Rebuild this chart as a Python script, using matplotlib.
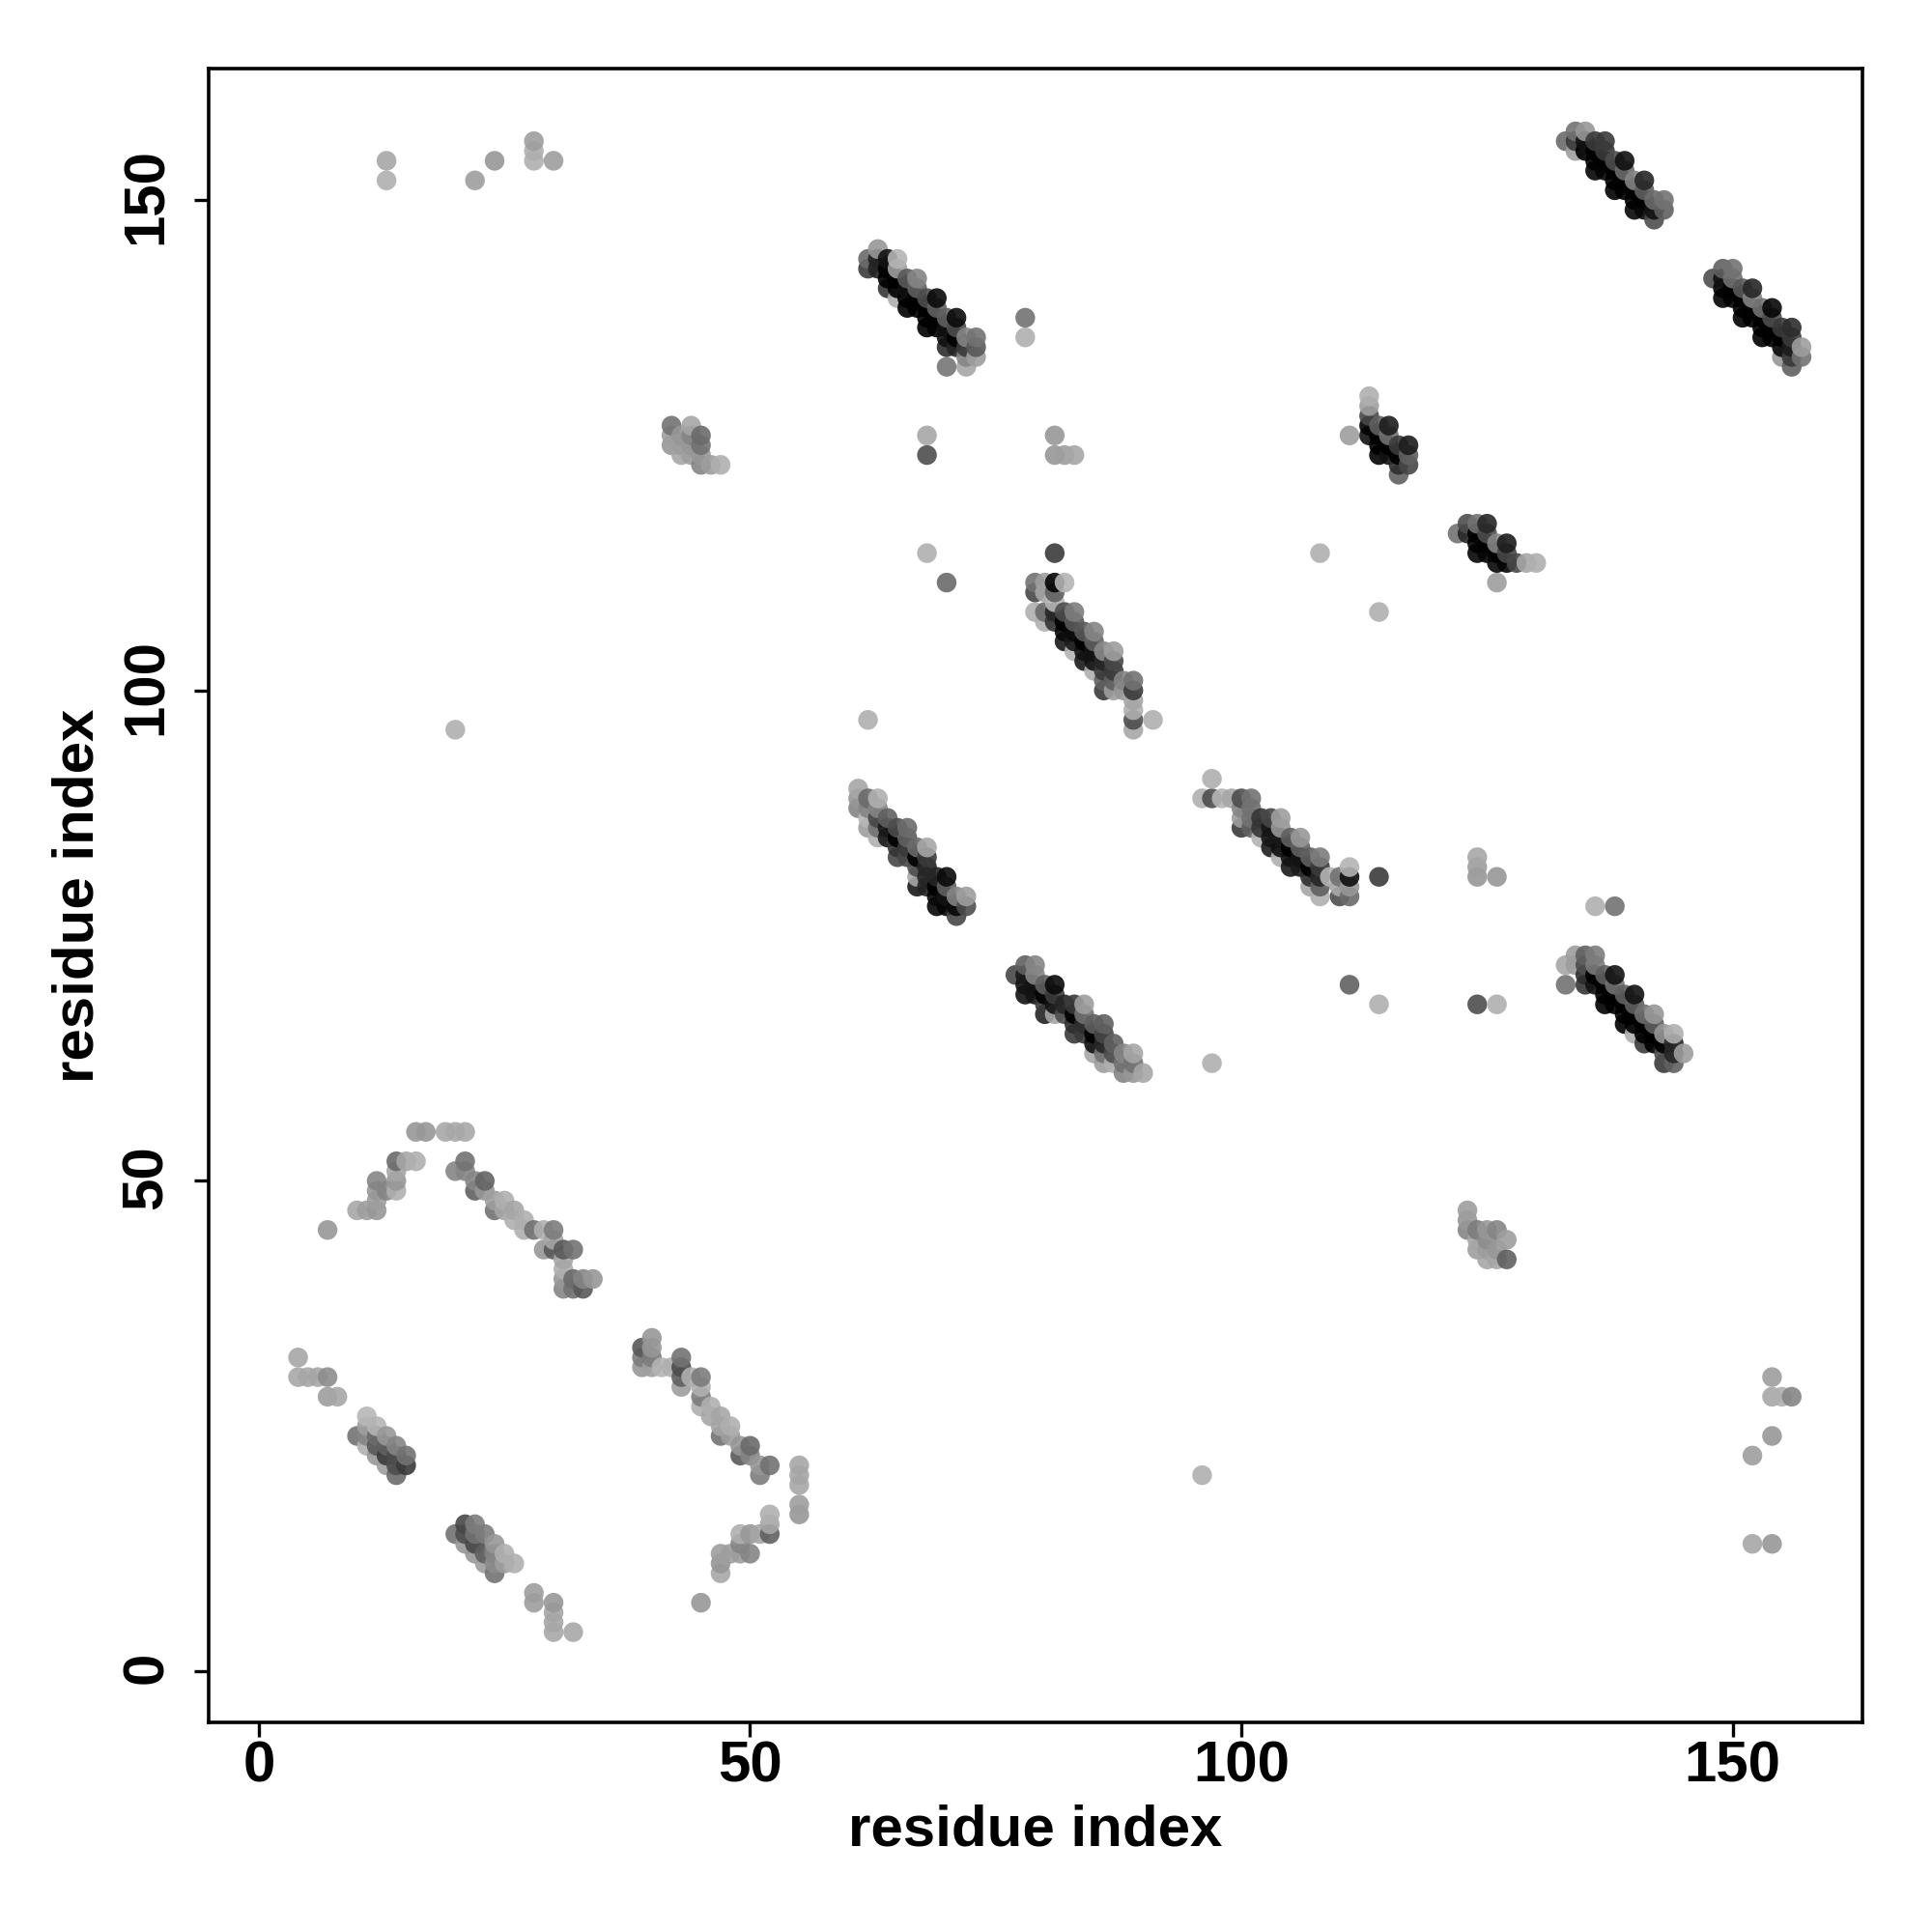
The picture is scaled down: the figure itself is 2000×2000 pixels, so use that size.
import matplotlib
matplotlib.use("Agg")
import matplotlib.pyplot as plt
import matplotlib.transforms as mtrans
import numpy as np

# each point is (residue i, residue j, grey level seen on white)
isolated = [(13,154,0xa8),(13,152,0xb0),(22,152,0xa0),(24,154,0x99),(28,156,0xa0),(28,155,0xb0),(28,154,0xb0),(30,154,0xa0),
            (20,96,0xb0),(62,97,0xb0),(68,126,0xa8),(68,124,0x55),(68,114,0xb0),(70,111,0x70),(78,138,0x77),(78,136,0xb0),
            (81,126,0x99),(81,124,0x99),(82,124,0xa0),(83,124,0xa8),(108,114,0xb0),(114,108,0xb0),(111,126,0xa0),(126,111,0xa0),
            (97,62,0xb0),(111,70,0x66),(114,68,0xb0),(124,68,0x55),(126,68,0xb0),(124,83,0xa8),(124,82,0xa0),(124,81,0x99),
            (126,81,0x99),(136,78,0xb0),(138,78,0x77),(96,20,0xb0),(154,30,0xa0),(154,28,0xa8),(155,28,0xb0),(156,28,0x88),
            (154,24,0x99),(152,22,0xa0),(152,13,0xa8),(154,13,0x99),(114,81,0x45),(81,114,0x45),(91,97,0xb0)]

block_a = [(63,145,0x99),(62,144,0x70),(62,143,0x45),(63,144,0x30),(63,143,0x30),(64,144,0x22),(65,144,0xb5),(65,143,0xa0),
           (64,143,0x10),(64,142,0x10),(64,141,0x40),(65,142,0x10),(65,141,0x10),(65,140,0xb0),(66,142,0x60),(67,142,0x88),
           (66,141,0x20),(66,140,0x10),(66,139,0x10),(67,141,0x66),(67,140,0x10),(67,139,0x10),(68,140,0x55),(69,140,0x1c),
           (68,139,0x10),(68,138,0x10),(68,137,0x10),(69,139,0x66),(69,138,0x10),(69,137,0x10),(70,138,0x66),(71,138,0x1c),
           (70,137,0x20),(70,136,0x20),(70,135,0x38),(71,137,0x55),(71,136,0x11),(71,135,0x30),(72,136,0x88),(73,136,0x77),
           (72,135,0x44),(73,135,0x60),(72,134,0x88),(73,134,0xa0),(70,133,0x7a),(72,133,0xa8)]

block_b = [(133,156,0x70),(134,157,0x77),(135,157,0x99),(134,156,0x44),(134,155,0xa0),(135,156,0x22),(135,155,0x11),
           (136,156,0x44),(137,156,0x44),(136,155,0x10),(136,154,0x10),(136,153,0x18),(137,155,0x44),(137,154,0x0c),(137,153,0x18),
           (138,154,0x55),(139,154,0x20),(138,153,0x10),(138,152,0x10),(138,151,0x10),(139,153,0x70),(139,152,0x10),(139,151,0x10),
           (140,152,0x88),(141,152,0x33),(140,151,0x10),(140,150,0x10),(140,149,0x1a),(141,151,0x66),(141,150,0x10),(141,149,0x1a),
           (142,150,0x70),(143,150,0x77),(142,149,0x22),(143,149,0x66),(142,148,0x55)]

block_c = [(148,142,0x55),(149,143,0x66),(150,143,0x77),(149,142,0x22),(149,141,0x15),(149,140,0x15),(150,142,0x77),(150,141,0x10),
           (150,140,0x15),(151,141,0x60),(152,141,0x33),(151,140,0x0c),(151,139,0x10),(151,138,0x11),(152,140,0x88),(152,139,0x10),
           (152,138,0x0c),(153,139,0x77),(154,139,0x18),(153,138,0x11),(153,137,0x0c),(153,136,0x14),(154,138,0x55),(154,137,0x0c),
           (154,136,0x14),(155,137,0x44),(156,137,0x38),(155,136,0x11),(156,136,0x44),(155,135,0x1a),(156,135,0x2a),(155,134,0x99),
           (156,134,0x44),(157,135,0xa0),(157,134,0x77),(156,133,0x66)]

block_d = [(79,111,0x77),(80,111,0xa0),(81,111,0x18),(82,111,0xb5),(79,110,0x50),(80,110,0xa8),(81,110,0x66),(81,109,0xb8),
           (79,108,0xb0),(80,108,0x70),(80,107,0xb0),(81,108,0x33),(81,107,0x40),(82,108,0x55),(83,108,0x80),(82,107,0x11),
           (82,106,0x1c),(82,105,0x28),(83,107,0x60),(83,106,0x1c),(83,105,0x28),(83,104,0xb5),(84,106,0x60),(85,106,0x88),
           (84,105,0x0c),(84,104,0x22),(84,103,0x28),(85,105,0x66),(85,104,0x22),(85,103,0x22),(85,102,0xb0),(86,104,0x8c),
           (87,104,0xa0),(86,103,0x33),(87,103,0x50),(86,102,0x44),(87,102,0x44),(86,101,0x66),(87,101,0x66),(86,100,0x44),
           (87,100,0xa0),(88,101,0x88),(89,101,0x77),(88,100,0x99),(89,100,0x44),(89,99,0xa8),(89,98,0xb0),(89,97,0x55),(89,96,0xaa)]

block_e = [(97,91,0xb0),(96,89,0xb0),(97,89,0x55),(98,89,0xb5),(99,89,0xa8),(100,89,0x55),(101,89,0x77),(100,88,0x88),(100,87,0xa0),
           (100,86,0x44),(101,88,0x77),(101,87,0x77),(101,86,0x66),(102,85,0xb5),(102,87,0x40),(103,87,0x50),(104,87,0xa0),(102,86,0x40),
           (103,86,0x25),(104,86,0x99),(103,85,0x25),(103,84,0x2a),(104,85,0x28),(104,84,0x20),(104,83,0xb0),(105,85,0x66),(106,85,0x99),
           (105,84,0x0c),(105,83,0x22),(105,82,0x28),(106,84,0x66),(106,83,0x22),(106,82,0x28),(107,83,0x66),(108,83,0x80),(107,82,0x11),
           (107,81,0x3a),(107,80,0xa8),(108,82,0x44),(108,81,0x33),(108,80,0x66),(108,79,0xb0),(109,81,0xb5),(110,81,0x77),(111,82,0xb5),
           (111,81,0x20),(110,80,0xaa),(111,80,0x99),(110,79,0x55),(111,79,0x70)]

block_f = [(61,90,0xa8),(61,89,0x99),(61,88,0x88),(62,89,0x70),(63,89,0xb0),(62,88,0x88),(62,87,0xb8),(62,86,0xa0),(63,88,0x88),
           (63,87,0x50),(63,86,0x77),(63,85,0xb0),(64,87,0x66),(65,86,0x55),(66,86,0x70),(64,86,0x28),(64,85,0x28),(65,85,0x0c),(65,84,0x40),
           (65,83,0x50),(66,85,0x66),(66,84,0x44),(66,83,0x50),(67,84,0x70),(68,84,0xa8),(67,83,0x11),(67,82,0x55),(67,81,0xa8),(67,80,0x28),
           (68,83,0x44),(68,82,0x33),(68,81,0x33),(68,80,0x30),(69,81,0x33),(70,81,0x1c),(69,80,0x11),(69,79,0x1a),(69,78,0x18),(70,80,0x66),
           (70,79,0x22),(70,78,0x18),(71,79,0x88),(72,79,0xa0),(71,78,0x1a),(72,78,0x55),(71,77,0x50)]

block_g = [(77,71,0x50),(78,72,0x66),(79,72,0x88),(78,71,0x28),(78,70,0x22),(78,69,0x22),(79,71,0x88),(79,70,0x22),(79,69,0x22),
           (80,70,0x66),(81,70,0x1c),(80,69,0x0c),(80,68,0x44),(80,67,0x30),(81,69,0x44),(81,68,0x22),(81,67,0xa8),(82,68,0x33),(82,67,0x55),
           (83,68,0x44),(84,68,0xa0),(83,67,0x0c),(83,66,0x3a),(83,65,0x44),(84,67,0x77),(84,66,0x3a),(84,65,0x44),(85,66,0x66),(86,66,0x66),
           (85,65,0x11),(85,64,0x22),(85,63,0xa8),(86,65,0x50),(86,64,0x33),(86,63,0x77),(86,62,0xa0),(87,64,0x66),(87,63,0x55),(87,62,0xb0),
           (88,63,0x88),(89,63,0xa8),(88,62,0x77),(89,62,0x77),(88,61,0x88),(89,61,0x99),(90,61,0xa8)]

block_h = [(133,72,0xa8),(134,73,0xa0),(135,73,0x66),(136,73,0x80),(133,70,0x77),(134,72,0xa0),(135,72,0x55),(135,71,0x3a),(135,70,0x40),
           (136,72,0x80),(136,71,0x11),(136,70,0x22),(137,71,0x66),(138,71,0x22),(137,70,0x10),(137,69,0x0a),(137,68,0x11),(138,70,0x77),
           (138,69,0x0a),(138,68,0x11),(139,69,0x66),(140,69,0x22),(139,68,0x0a),(139,67,0x10),(139,66,0x11),(140,68,0x66),(140,67,0x10),
           (140,65,0xb0),(140,66,0x0c),(141,67,0x77),(142,67,0x99),(141,66,0x11),(141,65,0x11),(141,64,0x45),(142,66,0x66),(142,65,0x11),
           (142,64,0x11),(143,65,0x99),(144,65,0xb0),(143,64,0x11),(143,63,0x55),(143,62,0x44),(144,64,0x33),(144,63,0x33),(144,62,0x66),(145,63,0xa0)]

block_i = [(113,130,0xb0),(113,129,0xa0),(113,128,0x50),(113,127,0x15),(113,126,0x22),(114,127,0x66),(115,127,0x2a),(114,126,0x11),
           (114,125,0x11),(114,124,0x15),(115,126,0x77),(115,125,0x11),(115,124,0x22),(116,125,0x45),(117,125,0x2a),(116,124,0x11),
           (116,123,0x3a),(116,122,0x66),(117,124,0x66),(117,123,0x50)]

block_j = [(122,116,0x77),(123,117,0x55),(124,117,0x77),(125,117,0x33),(123,116,0x33),(124,116,0x15),(124,115,0x15),(124,114,0x18),
           (125,116,0x55),(125,115,0x15),(125,114,0x18),(126,115,0x88),(127,115,0x2a),(126,114,0x11),(127,114,0x50),(126,113,0x1a),
           (127,113,0x18),(128,113,0x50),(129,113,0xa8),(130,113,0xb0)]

arc_left = [(16,55,0x99),(17,55,0x99),(19,55,0xaa),(20,55,0xaa),(21,55,0xaa),(14,52,0x70),(15,52,0xa8),(16,52,0xb0),(14,51,0xa8),
            (14,50,0x99),(14,49,0xb0),(12,50,0x88),(12,49,0x99),(13,49,0x88),(12,48,0xa0),(12,47,0x99),(11,47,0xa0),(10,47,0xa8),(7,45,0x99)]

arc_right = [(21,52,0x77),(20,51,0x88),(21,51,0x88),(22,50,0x88),(23,50,0x6a),(22,49,0x66),(23,49,0x99),(24,48,0xa0),(25,48,0xb0),
             (24,47,0x77),(25,47,0xa8),(26,47,0xa8),(26,46,0xb0),(27,46,0xb0),(27,45,0xb0),(28,45,0x77),(29,45,0xb0),(30,45,0x80),
             (30,44,0xa8),(29,43,0x99),(30,43,0x60),(31,43,0x60),(32,43,0x77),(31,42,0xa8),(31,41,0xb0),(31,40,0x99),(31,39,0x88),
             (32,40,0x70),(33,40,0x88),(34,40,0x99),(32,39,0x77),(33,39,0x60)]

low_strand = [(4,32,0xa8),(4,30,0xaa),(5,30,0xa8),(6,30,0xa8),(7,30,0x90),(7,28,0xa0),(8,28,0xa8),(11,26,0xb8),(12,25,0xb5),(13,24,0x99),
              (14,23,0x88),(15,22,0x77),(10,24,0x77),(11,25,0xa0),(11,24,0x88),(11,23,0xb0),(12,24,0x70),(12,23,0x60),(12,22,0x99),
              (13,23,0x66),(13,22,0x44),(13,21,0xa0),(14,22,0x55),(14,21,0x55),(14,20,0x70),(15,21,0x44),
              (20,14,0x77),(21,15,0x50),(22,15,0x80),(21,14,0x55),(21,13,0x99),(22,14,0x77),(22,13,0x50),(22,12,0x99),(23,14,0x80),
              (24,13,0x99),(25,12,0xb0),(26,11,0xb0),(23,12,0x66),(23,11,0xa0),(24,12,0x88),(24,11,0x90),(24,10,0x77),(25,11,0xa0),
              (28,8,0xa0),(28,7,0xa0),(30,7,0x99),(30,6,0xa8),(30,5,0xa8),(30,4,0xaa),(32,4,0xaa)]

low_right = [(40,34,0x99),(40,33,0x99),(39,33,0x60),(39,32,0x80),(39,31,0x99),(40,32,0x80),(40,31,0xa0),(41,31,0xb5),(42,31,0xb0),
             (43,32,0x77),(43,31,0x55),(43,30,0x66),(43,29,0xa0),(44,30,0xb0),(45,30,0x80),(45,29,0xb0),(45,28,0x80),(45,27,0xb0),
             (46,27,0xb0),(46,26,0xa8),(47,26,0xa8),(47,25,0xa8),(48,25,0xb0),(47,24,0x77),(48,24,0xa0),(49,23,0x99),(50,23,0x70),
             (49,22,0x60),(50,22,0x88),(51,21,0x99),(52,21,0x77),(51,20,0x80),(55,21,0xa8),(55,20,0xa8),(55,19,0xa8),(55,17,0xa0),
             (55,16,0x99),(52,16,0xb0),(52,15,0xa8),(52,14,0x66),(49,14,0xb0),(50,14,0x99),(51,14,0xa8),(49,13,0x88),(48,12,0xa0),
             (47,12,0xa0),(49,12,0xa0),(50,12,0x88),(47,11,0x99),(47,10,0xaa),(45,7,0x99)]

patch_top = [(42,127,0x77),(42,126,0xa0),(42,125,0x99),(43,126,0x99),(43,125,0xa0),(43,124,0xa8),(44,127,0xa8),(44,126,0x88),(44,125,0x99),
             (44,124,0xa0),(45,126,0x70),(45,125,0x77),(45,124,0x99),(45,123,0x88),(46,123,0xa0),(47,123,0xb0)]

patch_low = [(123,47,0xa0),(123,46,0x99),(123,45,0x88),(124,45,0x80),(124,44,0xa8),(124,43,0xa0),(125,45,0x99),(125,44,0x90),(125,43,0xa0),
             (125,42,0xa8),(126,45,0x88),(126,43,0x99),(126,42,0xa8),(127,44,0xa0),(127,42,0x66)]

groups = [isolated, block_a, block_b, block_c, block_d, block_e, block_f, block_g, block_h, block_i, block_j,
          arc_left, arc_right, low_strand, low_right, patch_top, patch_low]
tick_vals = [0, 50, 100, 150]

plt.rcParams["font.family"] = ["Liberation Sans"]
plt.rcParams["font.weight"] = "bold"

points = sorted(p for g in groups for p in g)
x = np.array([p[0] for p in points])
y = np.array([p[1] for p in points])
seen = (np.array([p[2] for p in points]) / 255) ** 0.9  # my readings came out a bit dark

# points are slightly see through, so work back from the shade seen on white
alpha = 0.9
grey = np.clip((seen - (1 - alpha)) / alpha, 0, 1)
colors = np.column_stack([grey, grey, grey, np.full(len(grey), alpha)])

fig = plt.figure(figsize=(10, 10), dpi=200)
ax = fig.add_axes([216 / 2000, 1 - 1783 / 2000, 1712 / 2000, 1712 / 2000])
ax.scatter(x, y, s=54, c=colors, linewidths=0)
ax.set_xlim(-5.1, 163.2)
ax.set_ylim(-5.2, 163.4)
ax.set_xticks(tick_vals)
ax.set_yticks(tick_vals)
ax.tick_params(length=5.5, width=1.2, labelsize=21.6)
ax.tick_params(axis="x", pad=1)
ax.tick_params(axis="y", pad=7.5)

# rotated labels sit a few pixels low, nudge them up onto the ticks
nudge = mtrans.ScaledTranslation(0, 4 / 200, fig.dpi_scale_trans)
for label in ax.get_yticklabels():
    label.set_rotation(90)
    label.set_va("center")
    label.set_transform(label.get_transform() + nudge)

for s in ax.spines.values():
    s.set_linewidth(1.3)
ax.set_xlabel("residue index", fontsize=21.6, fontweight="bold", labelpad=4)
ax.set_ylabel("residue index", fontsize=21.6, fontweight="bold", labelpad=6)

fig.savefig("out.png", dpi=200)
